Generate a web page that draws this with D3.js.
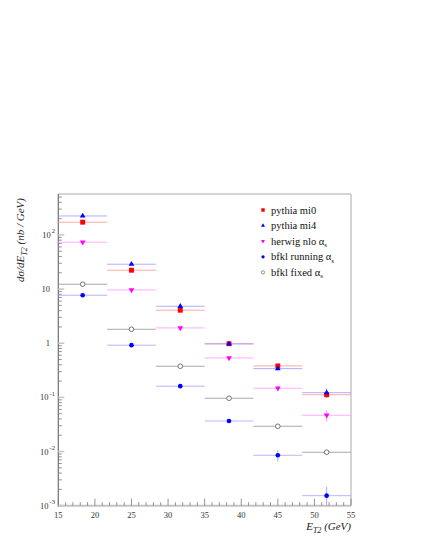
<!DOCTYPE html>
<html>
<head>
<meta charset="utf-8">
<script src="https://cdn.jsdelivr.net/npm/d3@7"></script>
<style>
  html, body { margin: 0; padding: 0; background: #fff; }
  svg { display: block; font-family: 'Liberation Serif', 'DejaVu Serif', serif; }
</style>
</head>
<body>
<div id="chart"></div>
<script>
// bins in E_T2 (GeV)
const binEdges = [15, 21.67, 28.33, 35, 41.67, 48.33, 55];
const binCenters = [18.33, 25, 31.67, 38.33, 45, 51.67];

// dsigma/dE_T2 (nb / GeV)
const pythiaMi0 = [172, 22.3, 4.07, 0.98, 0.381, 0.112];
const pythiaMi0Err = [0, 0, 0, 0, 0.02, 0.015];
const pythiaMi4 = [224, 28.8, 4.82, 0.97, 0.34, 0.122];
const pythiaMi4Err = [0, 0, 0, 0, 0.02, 0.025];
const herwigNlo = [73.4, 9.65, 1.92, 0.535, 0.1475, 0.0468];
const herwigNloErr = [0, 0, 0, 0.02, 0.015, 0.011];
const bfklRunning = [7.7, 0.92, 0.161, 0.0367, 0.00853, 0.00153];
const bfklRunningErr = [0, 0, 0.01, 0.003, 0.002, 0.0007];
const bfklFixed = [12.3, 1.81, 0.376, 0.0964, 0.0293, 0.0097];
const bfklFixedErr = [0, 0, 0, 0, 0, 0];

const xTicks = [15, 20, 25, 30, 35, 40, 45, 50, 55];
const yTickValues = [1e-3, 1e-2, 1e-1, 1, 10, 100];
const yTickLabels = [['10', '-3'], ['10', '-2'], ['10', '-1'], ['1', ''], ['10', ''], ['10', '2']];

const series = [
  { name: 'pythia mi0', sub: '', values: pythiaMi0, errs: pythiaMi0Err, symbol: d3.symbolSquare, size: 24, color: '#ff0000', line: '#ff9a9a', rotate: 0, open: false },
  { name: 'pythia mi4', sub: '', values: pythiaMi4, errs: pythiaMi4Err, symbol: d3.symbolTriangle, size: 14, color: '#0000ff', line: '#a0a0ff', rotate: 0, open: false },
  { name: 'herwig nlo α', sub: 's', values: herwigNlo, errs: herwigNloErr, symbol: d3.symbolTriangle, size: 14, color: '#ff00ff', line: '#ffa0ff', rotate: 180, open: false },
  { name: 'bfkl running α', sub: 's', values: bfklRunning, errs: bfklRunningErr, symbol: d3.symbolCircle, size: 17, color: '#0000ff', line: '#a8a8ff', rotate: 0, open: false },
  { name: 'bfkl fixed α', sub: 's', values: bfklFixed, errs: bfklFixedErr, symbol: d3.symbolCircle, size: 17, color: '#666666', line: '#999999', rotate: 0, open: true },
];

const width = 421;
const height = 545;
const frame = { left: 58.3, right: 351, top: 194, bottom: 505.7 };

const x = d3.scaleLinear().domain([15, 55]).range([frame.left, frame.right]);
const y = d3.scaleLog().domain([1e-3, 570]).range([frame.bottom, frame.top]);

const svg = d3.select('#chart').append('svg')
  .attr('width', width)
  .attr('height', height);

// frame
svg.append('line')
  .attr('x1', frame.left).attr('x2', frame.right)
  .attr('y1', frame.top).attr('y2', frame.top)
  .attr('stroke', '#d4d4d4').attr('stroke-width', 2);
svg.append('line')
  .attr('x1', frame.right).attr('x2', frame.right)
  .attr('y1', frame.top).attr('y2', frame.bottom)
  .attr('stroke', '#d4d4d4').attr('stroke-width', 2);
svg.append('line')
  .attr('x1', frame.left).attr('x2', frame.right)
  .attr('y1', frame.bottom).attr('y2', frame.bottom)
  .attr('stroke', '#c4c4c4').attr('stroke-width', 2);
svg.append('line')
  .attr('x1', frame.left).attr('x2', frame.left)
  .attr('y1', frame.top).attr('y2', frame.bottom + 1)
  .attr('stroke', '#707070').attr('stroke-width', 1.2);

// x ticks (inside, pointing up)
const xMinor = d3.range(15, 56, 1);
svg.append('g').selectAll('line')
  .data(xMinor)
  .join('line')
  .attr('x1', d => x(d)).attr('x2', d => x(d))
  .attr('y1', frame.bottom)
  .attr('y2', d => frame.bottom - (d % 5 === 0 ? 7 : 3.5))
  .attr('stroke', '#777').attr('stroke-width', 0.8);

svg.append('g').selectAll('text')
  .data(xTicks)
  .join('text')
  .attr('x', d => x(d))
  .attr('y', frame.bottom + 12)
  .attr('text-anchor', 'middle')
  .attr('font-size', 8.5)
  .attr('fill', '#333')
  .text(d => d);

// y ticks (inside, pointing right)
const isMajor = d => yTickValues.some(v => Math.abs(v - d) / v < 1e-6);
const yMinor = y.ticks().filter(d => d >= 1e-3 && d <= 570);
svg.append('g').selectAll('line')
  .data(yMinor)
  .join('line')
  .attr('x1', frame.left)
  .attr('x2', d => frame.left + (isMajor(d) ? 6 : 3.5))
  .attr('y1', d => y(d)).attr('y2', d => y(d))
  .attr('stroke', d => (isMajor(d) ? '#c8c8c8' : '#777'))
  .attr('stroke-width', d => (isMajor(d) ? 1.6 : 0.8));

const yLab = svg.append('g').selectAll('text')
  .data(yTickValues)
  .join('text')
  .attr('x', (d, i) => (yTickLabels[i][1] ? 55 : 50))
  .attr('y', d => y(d) + 3)
  .attr('text-anchor', 'end')
  .attr('font-size', 8.5)
  .attr('fill', '#333');
yLab.append('tspan').text((d, i) => yTickLabels[i][0]);
yLab.append('tspan')
  .attr('dx', 1)
  .attr('dy', -4.5)
  .attr('font-size', 6.5)
  .text((d, i) => yTickLabels[i][1]);

// axis titles
const yTitle = svg.append('text')
  .attr('transform', 'translate(24, 240) rotate(-90)')
  .attr('text-anchor', 'middle')
  .attr('font-size', 11)
  .attr('font-style', 'italic')
  .attr('fill', '#222');
yTitle.append('tspan').text('dσ/dE');
yTitle.append('tspan').attr('dy', 2.5).attr('font-size', 8).text('T2');
yTitle.append('tspan').attr('dy', -2.5).text(' (nb / GeV)');

const xTitle = svg.append('text')
  .attr('x', frame.right)
  .attr('y', 530)
  .attr('text-anchor', 'end')
  .attr('font-size', 11)
  .attr('font-style', 'italic')
  .attr('fill', '#222');
xTitle.append('tspan').text('E');
xTitle.append('tspan').attr('dy', 2.5).attr('font-size', 8).text('T2');
xTitle.append('tspan').attr('dy', -2.5).text(' (GeV)');

// data: horizontal bin bars, vertical error bars, markers
const plot = svg.append('g');
const clamp = v => Math.max(1e-3, Math.min(570, v));

series.forEach(s => {
  const g = plot.append('g');
  const pts = s.values.map((v, i) => ({ v, e: s.errs[i], i }));

  g.selectAll('line.h')
    .data(pts)
    .join('line')
    .attr('class', 'h')
    .attr('x1', d => x(binEdges[d.i]))
    .attr('x2', d => x(binEdges[d.i + 1]))
    .attr('y1', d => y(d.v)).attr('y2', d => y(d.v))
    .attr('stroke', s.line)
    .attr('stroke-opacity', 0.85)
    .attr('stroke-width', 1);

  g.selectAll('line.v')
    .data(pts.filter(d => d.e > 0))
    .join('line')
    .attr('class', 'v')
    .attr('x1', d => x(binCenters[d.i]))
    .attr('x2', d => x(binCenters[d.i]))
    .attr('y1', d => y(clamp(d.v - d.e)))
    .attr('y2', d => y(clamp(d.v + d.e)))
    .attr('stroke', s.line)
    .attr('stroke-width', 1);
});

series.forEach(s => {
  plot.append('g').selectAll('path')
    .data(s.values)
    .join('path')
    .attr('d', d3.symbol(s.symbol, s.size))
    .attr('transform', (d, i) => `translate(${x(binCenters[i])},${y(d)}) rotate(${s.rotate})`)
    .attr('fill', s.open ? '#fff' : s.color)
    .attr('stroke', s.open ? s.color : 'none')
    .attr('stroke-width', 0.9);
});

// legend
const legend = svg.append('g').attr('transform', 'translate(263, 210)');
const row = legend.selectAll('g')
  .data(series)
  .join('g')
  .attr('transform', (d, i) => `translate(0, ${i * 15.6})`);

row.append('path')
  .attr('d', d => d3.symbol(d.symbol, d.size * 0.5)())
  .attr('transform', d => `rotate(${d.rotate})`)
  .attr('fill', d => (d.open ? '#fff' : d.color))
  .attr('stroke', d => (d.open ? d.color : 'none'))
  .attr('stroke-width', 0.7);

const lt = row.append('text')
  .attr('x', 8)
  .attr('y', 3.5)
  .attr('font-size', 10.5)
  .attr('fill', '#111');
lt.append('tspan').text(d => d.name);
lt.append('tspan')
  .attr('dy', 2.5)
  .attr('font-size', 7)
  .text(d => d.sub);
</script>
</body>
</html>
